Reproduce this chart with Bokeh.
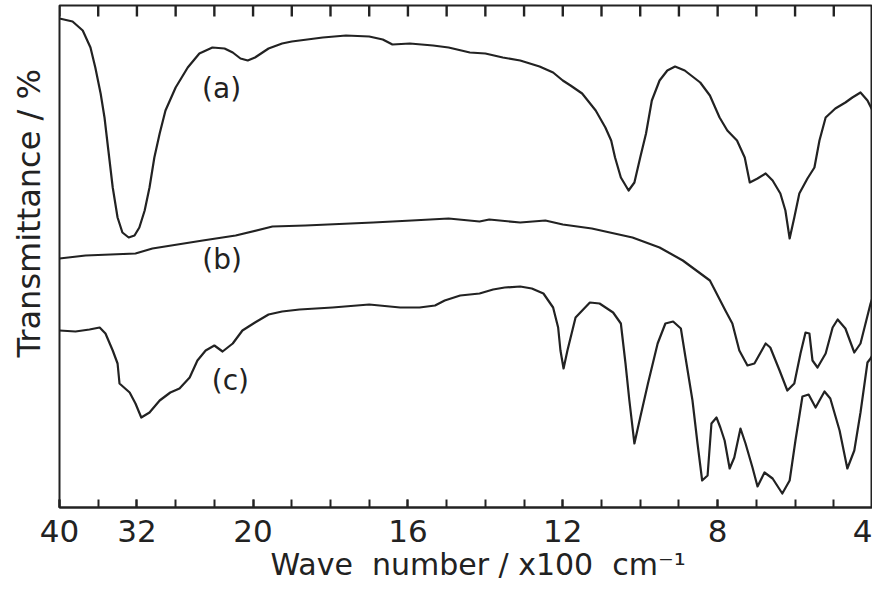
from bokeh.plotting import figure
from bokeh.models import Range1d, LinearAxis, FixedTicker, Label, Title
from bokeh.embed import file_html
from bokeh.resources import INLINE

# ---- data: wavenumber (cm-1) and transmittance (% , curves offset as drawn)
wn_a = [4000, 3865, 3760, 3680, 3630, 3575, 3535, 3495, 3450, 3400, 3350, 3285, 3225, 3175, 3120, 3070, 3020, 2965, 2905, 2800,
        2675, 2555, 2420, 2295, 2210, 2130, 2055, 1995, 1960, 1925, 1900, 1820, 1760, 1700, 1665, 1640, 1595, 1535, 1495, 1440,
        1400, 1355, 1310, 1260, 1225, 1200, 1180, 1150, 1115, 1090, 1075, 1065, 1050, 1030, 1015, 1000, 985, 970, 950, 930,
        910, 885, 845, 820, 795, 775, 750, 730, 717, 697, 676, 658, 638, 625, 614, 602, 589, 568, 550, 537,
        521, 496, 470, 452, 431, 413, 400]
tr_a = [97.8, 97.2, 95.4, 92.0, 88.0, 82.8, 78.0, 71.4, 64.0, 58.0, 55.0, 54.0, 54.4, 56.0, 59.4, 64.0, 70.0, 74.8, 79.4, 84.0,
        88.0, 90.8, 92.0, 91.8, 91.0, 89.8, 89.4, 90.0, 91.8, 92.8, 93.2, 94.0, 94.4, 94.2, 93.6, 92.6, 92.8, 92.4, 92.0, 91.0,
        90.8, 90.0, 89.4, 88.2, 87.0, 85.4, 84.4, 82.8, 79.4, 76.0, 73.4, 70.0, 66.0, 63.4, 65.0, 70.0, 74.8, 81.4, 85.4, 87.4,
        88.2, 87.4, 85.0, 82.4, 78.0, 75.4, 73.4, 70.0, 65.0, 65.8, 66.8, 65.4, 62.8, 59.4, 53.8, 58.0, 62.8, 65.8, 68.0, 73.4,
        78.0, 79.8, 81.0, 82.0, 83.0, 81.4, 79.4]

wn_b = [4000, 3730, 3215, 3040, 2520, 2180, 1950, 1865, 1690, 1590, 1495, 1415, 1390, 1310, 1245, 1200, 1125, 1020, 950, 890,
        820, 780, 762, 744, 723, 705, 689, 676, 664, 640, 620, 602, 586, 573, 563, 555, 542, 521, 503, 490,
        470, 447, 431, 418, 405, 400]
tr_b = [49.8, 50.4, 50.8, 51.8, 53.4, 54.4, 56.2, 56.4, 57.0, 57.4, 57.8, 57.2, 57.6, 57.0, 57.4, 56.6, 55.8, 54.0, 52.0, 49.4,
        45.4, 39.4, 36.8, 31.4, 28.4, 28.8, 31.0, 32.8, 32.0, 27.4, 23.4, 24.8, 30.8, 35.0, 34.8, 29.4, 28.0, 30.8, 36.0, 37.6,
        35.8, 31.0, 32.8, 36.8, 40.8, 42.0]

wn_c = [4000, 3835, 3690, 3585, 3525, 3450, 3400, 3380, 3275, 3215, 3155, 3070, 2965, 2855, 2760, 2655, 2575, 2490, 2400, 2315,
        2210, 2110, 1995, 1960, 1925, 1880, 1795, 1700, 1620, 1570, 1530, 1505, 1465, 1415, 1380, 1350, 1310, 1280, 1250, 1225,
        1212, 1206, 1198, 1188, 1167, 1130, 1105, 1070, 1050, 1038, 1028, 1015, 1000, 980, 955, 935, 915, 895, 883, 865,
        852, 840, 826, 816, 803, 793, 782, 769, 757, 741, 728, 710, 697, 679, 658, 633, 614, 599, 581, 565,
        547, 524, 509, 485, 465, 447, 431, 413, 405, 400]
tr_c = [35.4, 35.2, 35.6, 36.0, 34.8, 31.4, 28.8, 24.8, 23.0, 20.8, 18.0, 19.0, 21.4, 23.0, 23.8, 26.0, 29.4, 31.4, 32.4, 31.2,
        32.8, 35.4, 37.0, 38.6, 39.2, 39.6, 40.0, 40.6, 40.0, 40.0, 40.4, 41.4, 42.4, 42.8, 43.6, 44.0, 44.2, 43.8, 42.8, 40.0,
        36.0, 31.4, 27.8, 31.4, 38.0, 41.0, 40.8, 39.0, 36.8, 28.8, 21.4, 12.8, 18.0, 24.8, 32.8, 36.8, 37.2, 35.8, 30.0, 21.4,
        12.8, 5.4, 6.4, 16.8, 18.0, 16.0, 13.4, 7.8, 10.0, 15.8, 12.8, 8.0, 4.2, 7.0, 5.8, 2.8, 5.4, 13.4, 22.2, 22.6,
        20.0, 23.2, 21.8, 15.4, 7.8, 11.4, 19.0, 29.0, 29.8, 30.5]

curve_names = ["(a)", "(b)", "(c)"]
curve_label_wn = [2325, 2320, 2235]
curve_label_tr = [83.8, 49.6, 25.4]

tick_wavenumbers = [4000, 3200, 2000, 1600, 1200, 800, 400]
tick_labels = ["40", "32", "20", "16", "12", "8", "4"]

x_title = "Wave \u00a0number / x100 \u00a0cm\u207b\u00b9"
y_title = "Transmittance / %"

T_MAX = 100.4
FRAME_H = 502
TICK_PX = 8
TOP_TICK_PX = 11


def chart_x(w):
    # split abscissa of the spectrometer chart:
    # 400 cm-1 per division from 4000 to 2000, 100 cm-1 per division below 2000
    return (4000 - w) / 400 if w >= 2000 else 5 + (2000 - w) / 100


INK = "#222222"
FONT = "DejaVu Sans"

division_wn = list(range(4000, 1999, -400)) + list(range(1900, 399, -100))
division_pos = [round(chart_x(w)) for w in division_wn]
label_pos = [round(chart_x(w)) for w in tick_wavenumbers]
overrides = {pos: lab for pos, lab in zip(label_pos, tick_labels)}

p = figure(frame_width=813, frame_height=FRAME_H,
           min_border_left=57, min_border_right=0, min_border_top=5, min_border_bottom=70,
           x_range=Range1d(chart_x(4000), chart_x(400)), y_range=Range1d(0, T_MAX),
           x_axis_location=None, y_axis_location=None,
           toolbar_location=None, output_backend="svg")
p.grid.visible = False
p.outline_line_color = INK
p.outline_line_width = 2
p.background_fill_color = "white"
p.border_fill_color = "white"

# bottom scale: a mark at every division, numbers at the labelled ones
ax = LinearAxis(ticker=FixedTicker(ticks=label_pos, minor_ticks=division_pos))
ax.axis_line_color = INK
ax.axis_line_width = 2
for kind in ("major", "minor"):
    setattr(ax, f"{kind}_tick_in", TICK_PX)
    setattr(ax, f"{kind}_tick_out", 0)
    setattr(ax, f"{kind}_tick_line_color", INK)
    setattr(ax, f"{kind}_tick_line_width", 2)
ax.major_label_overrides = overrides
ax.major_label_text_font = FONT
ax.major_label_text_font_size = "31px"
ax.major_label_text_color = INK
ax.major_label_standoff = 12
p.add_layout(ax, "below")

# division marks hanging from the top edge of the chart
tick_len = TOP_TICK_PX * T_MAX / FRAME_H
p.segment(x0=division_pos, y0=[T_MAX] * len(division_pos),
          x1=division_pos, y1=[T_MAX - tick_len] * len(division_pos),
          line_color=INK, line_width=2.4, line_cap="butt")

for wn, tr in ((wn_a, tr_a), (wn_b, tr_b), (wn_c, tr_c)):
    p.line([chart_x(w) for w in wn], tr, line_color=INK, line_width=2.2, line_join="round")

for name, w, t in zip(curve_names, curve_label_wn, curve_label_tr):
    p.add_layout(Label(x=chart_x(w), y=t, text=name, text_font=FONT, text_font_size="28px",
                       text_color=INK, text_align="center", text_baseline="middle"))

xt = Title(text=x_title, align="left", offset=211, standoff=0,
           text_font=FONT, text_font_size="30px", text_font_style="normal", text_color=INK)
p.add_layout(xt, "below")
yt = Title(text=y_title, align="left", offset=150, standoff=19, vertical_align="top",
           text_font=FONT, text_font_size="32px", text_font_style="normal", text_color=INK)
p.add_layout(yt, "left")

open("out.html", "w").write(file_html(p, INLINE))
